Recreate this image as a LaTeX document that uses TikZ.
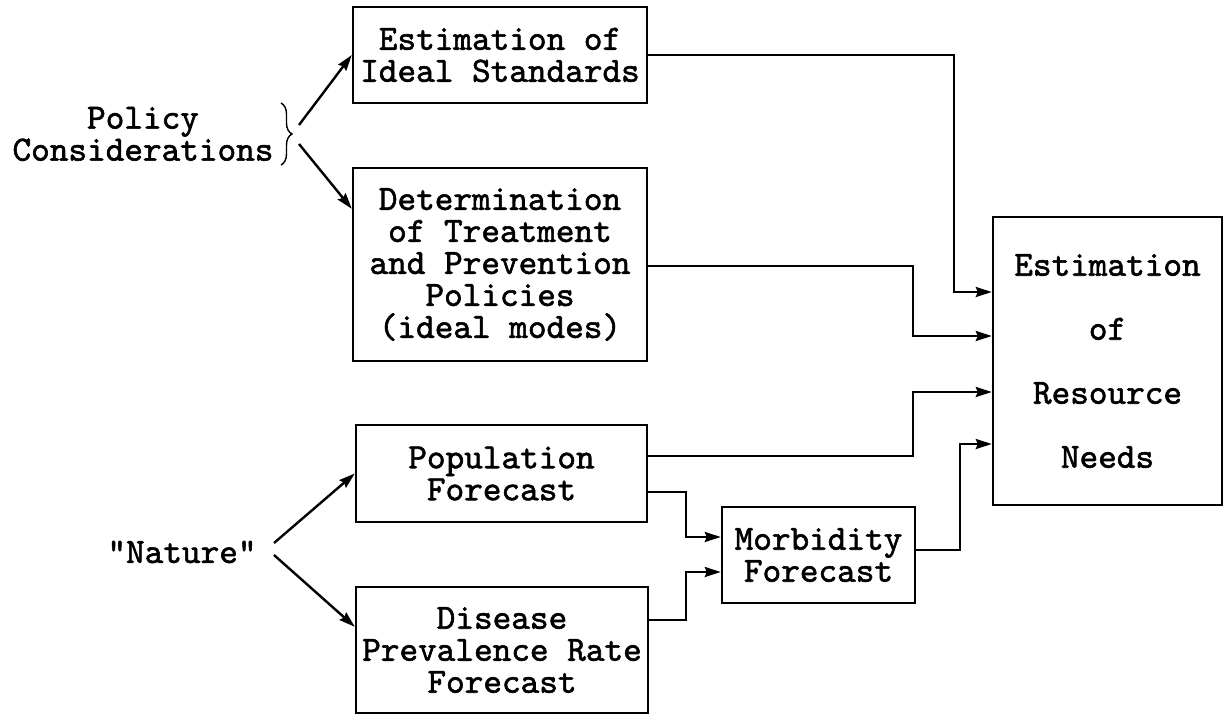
\documentclass[tikz,border=0pt]{standalone}
\usepackage{fontspec}
\newfontfamily\courfont{lmmono10-regular}[Extension=.otf, FakeBold=1.6]
\usetikzlibrary{arrows.meta,calc,decorations.pathreplacing}
\begin{document}
\begin{tikzpicture}[x=1pt,y=-1pt,
  txt/.style={font=\courfont\fontsize{35.5}{32}\selectfont},
  box/.style={draw, line width=2.4pt, inner sep=0pt, align=center, txt},
  lbl/.style={inner sep=0pt, align=center, txt},
  arr/.style={line width=2.4pt, -{Stealth[length=16pt,width=10pt,inset=2pt]}},
  bracestyle/.style={line width=1.4pt, decorate, decoration={brace, amplitude=11pt}}]
\fill[white] (0,0) rectangle (1223,715);
\useasboundingbox (0,0) rectangle (1223,715);

% boxes
\node[box, minimum width=294pt, minimum height=96pt] (ideal) at (500,55) {Estimation of\\Ideal Standards};
\node[box, minimum width=294pt, minimum height=193pt] (det) at (500,264.5) {Determination\\of Treatment\\and Prevention\\Policies\\(ideal modes)};
\node[box, minimum width=291pt, minimum height=97pt] (pop) at (501.5,473.5) {Population\\Forecast};
\node[box, minimum width=292pt, minimum height=126pt] (dis) at (502,650) {Disease\\Prevalence Rate\\Forecast};
\node[box, minimum width=193pt, minimum height=96pt] (morb) at (818.5,555) {Morbidity\\Forecast};
\node[box, minimum width=229pt, minimum height=288pt] (res) at (1107.5,361) {Estimation\\[32pt]of\\[32pt]Resource\\[32pt]Needs};

% left labels
\node[lbl] (policy) at (143,134) {Policy\\Considerations};
\node[lbl] (nature) at (182,552) {"Nature"};

% brace
\coordinate (bt) at (281,103);
\coordinate (bb) at (281,165);
\draw[bracestyle] (bt) -- (bb);

% arrows from the left labels
\coordinate (pa) at (299,125);
\coordinate (pb) at (299,144);
\draw[arr] (pa) -- (ideal.west);
\draw[arr] (pb) -- ($(det.north west)+(0,42)$);
\coordinate (na) at (274,543);
\coordinate (nb) at (274,555);
\draw[arr] (na) -- (pop.west);
\draw[arr] (nb) -- ($(dis.north west)+(0,41)$);

% connectors to the right
\coordinate (j1) at (954,292);
\draw[arr] (ideal.east) -| (j1) -- (j1 -| res.west);
\coordinate (j2) at (913,336);
\draw[arr] ($(det.north east)+(0,99)$) -| (j2) -- (j2 -| res.west);
\coordinate (j3) at (913,392);
\draw[arr] ($(pop.north east)+(0,32)$) -| (j3) -- (j3 -| res.west);
\coordinate (j4) at (686,537);
\draw[arr] ($(pop.north east)+(0,68)$) -| (j4) -- (j4 -| morb.west);
\coordinate (j5) at (686,572);
\draw[arr] ($(dis.north east)+(0,34)$) -| (j5) -- (j5 -| morb.west);
\coordinate (j6) at (960,444);
\draw[arr] ($(morb.east)+(0,-5)$) -| (j6) -- (j6 -| res.west);
\end{tikzpicture}
\end{document}
